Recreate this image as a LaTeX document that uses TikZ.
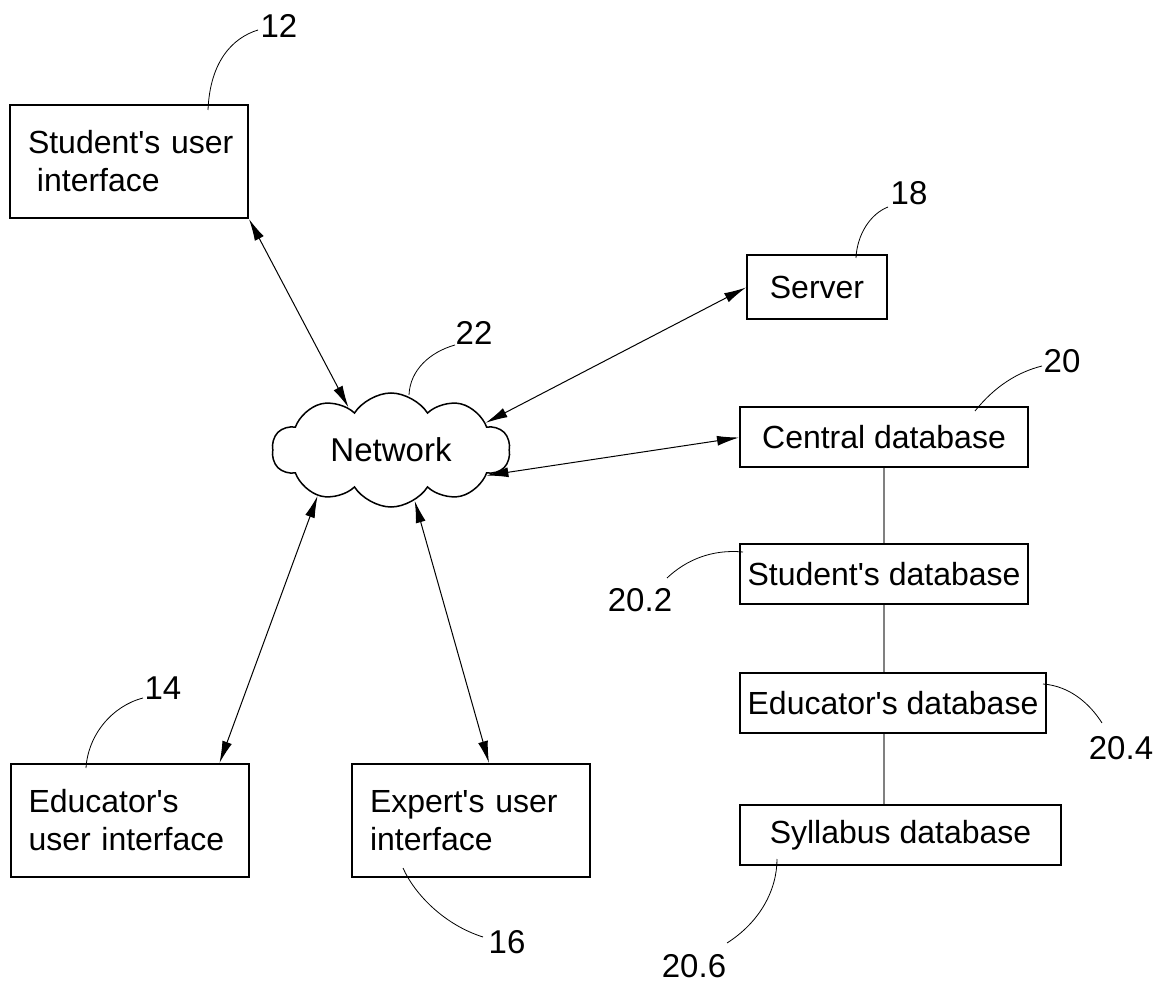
\documentclass[tikz,border=0pt]{standalone}
\usepackage{fontspec}
\setmainfont{Liberation Sans}
\usetikzlibrary{arrows.meta,shapes.symbols}

\newcommand{\aps}{\textquotesingle}

\begin{document}
\begin{tikzpicture}[x=0.5pt,y=-0.5pt,
  uibox/.style={draw,line width=1pt,text width=101pt,align=left,
    inner xsep=9pt,minimum height=56.5pt,font=\fontsize{16}{19}\selectfont},
  dbbox/.style={draw,line width=1pt,minimum height=30pt,inner xsep=2pt,
    font=\fontsize{16}{19}\selectfont},
  link/.style={{Latex[length=11pt,width=5pt]}-{Latex[length=11pt,width=5pt]},
    line width=0.5pt},
  refnum/.style={font=\fontsize{16.5}{19}\selectfont},
  leader/.style={line width=0.4pt}]
  \useasboundingbox (0,0) rectangle (1172,988);
  %% Network cloud
  \node[cloud,draw,line width=0.75pt,cloud puffs=10,cloud puff arc=115,
        cloud ignores aspect,minimum width=119pt,minimum height=57pt,
        font=\fontsize{16.5}{19}\selectfont] (net) at (391,450) {Network};
  %% User interfaces
  \node[uibox] (sui) at (129,161.5)
       {\mbox{Student\aps s user}\\\hspace*{0.28em}interface};
  \node[uibox] (eui) at (129.5,820.5) {Educator\aps s\\user interface};
  \node[uibox] (xui) at (471,820.5) {\mbox{Expert\aps s user}\\interface};
  %% Server and databases
  \node[dbbox,minimum width=70pt,minimum height=32pt] (srv) at (817,287.5) {Server};
  \node[dbbox,minimum width=144pt] (cdb) at (884,437.5) {Central database};
  \node[dbbox,minimum width=144pt] (sdb) at (884,574) {Student\aps s database};
  \node[dbbox,minimum width=153pt] (edb) at (893,703) {Educator\aps s database};
  \node[dbbox,minimum width=160.5pt] (ydb) at (900.5,835) {Syllabus database};
  %% Links to the network
  \draw[link] (sui.south east) -- (net.135);
  \draw[link] (net.16) -- (srv.west);
  \draw[link] (net.345) -- (cdb.west);
  \draw[link] (net.212) -- ([xshift=105pt]eui.north west);
  \draw[link] (net.295) -- ([xshift=69pt]xui.north west);
  %% Database chain
  \draw[gray,line width=0.6pt] (cdb.south) -- (cdb.south |- sdb.north);
  \draw[gray,line width=0.6pt] (cdb.south |- sdb.south) -- (cdb.south |- edb.north);
  \draw[gray,line width=0.6pt] (cdb.south |- edb.south) -- (cdb.south |- ydb.north);
  %% Reference numerals
  \node[refnum] (n12) at (279,26) {12};
  \draw[leader] (208,110) .. controls (210,62) and (232,38) .. (258,30);
  \node[refnum] (n18) at (909,193) {18};
  \draw[leader] (856,258) .. controls (857,235) and (870,214) .. (888,207);
  \node[refnum] (n22) at (474,333) {22};
  \draw[leader] (409,395) .. controls (410,370) and (430,352) .. (455,345);
  \node[refnum] (n20) at (1062,361) {20};
  \draw[leader] (975,411) .. controls (995,386) and (1018,372) .. (1042,366);
  \node[refnum] (n202) at (640,600) {20.2};
  \draw[leader] (743,552) .. controls (712,549) and (686,560) .. (667,578);
  \node[refnum] (n204) at (1121,748) {20.4};
  \draw[leader] (1043,684) .. controls (1070,686) and (1090,704) .. (1102,723);
  \node[refnum] (n206) at (694,966) {20.6};
  \draw[leader] (777,859) .. controls (777,890) and (760,922) .. (727,943);
  \node[refnum] (n14) at (163,688) {14};
  \draw[leader] (86,768) .. controls (88,735) and (112,706) .. (143,698);
  \node[refnum] (n16) at (507,942) {16};
  \draw[leader] (403,868) .. controls (415,895) and (445,925) .. (483,937);
\end{tikzpicture}
\end{document}
